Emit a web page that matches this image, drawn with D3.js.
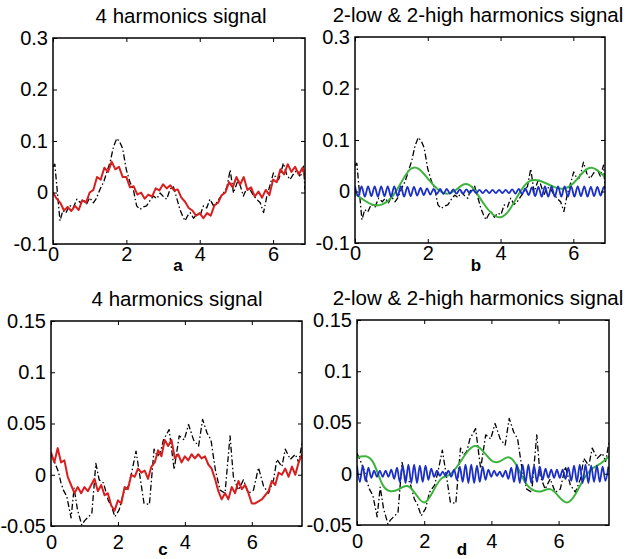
<!DOCTYPE html>
<html>
<head>
<meta charset="utf-8">
<script src="https://cdn.jsdelivr.net/npm/d3@7"></script>
<style>
  body { margin: 0; background: #fff; }
  svg text { font-family: "Liberation Sans", Arial, sans-serif; }
</style>
</head>
<body>
<svg id="chart" width="630" height="559"></svg>
<script>
// ---- data ----
const titles = ["4 harmonics signal", "2-low & 2-high harmonics signal", "4 harmonics signal", "2-low & 2-high harmonics signal"];
const letters = ["a", "b", "c", "d"];
const xTicks = [0, 2, 4, 6];
const yTicksTop = [-0.1, 0, 0.1, 0.2, 0.3];
const yTicksBottom = [-0.05, 0, 0.05, 0.1, 0.15];

// measured signal, top row (dash-dot black)
const blackTopX = [0, 0.05, 0.12, 0.19, 0.27, 0.35, 0.45, 0.55, 0.65, 0.75, 0.83, 0.92, 1.0, 1.1, 1.18, 1.28, 1.38, 1.46, 1.56, 1.65, 1.74, 1.82, 1.9, 2.0, 2.1, 2.19, 2.28, 2.37, 2.46, 2.55, 2.65, 2.74, 2.83, 2.92, 3.01, 3.1, 3.19, 3.28, 3.37, 3.46, 3.53, 3.6, 3.67, 3.74, 3.83, 3.92, 4.01, 4.1, 4.19, 4.28, 4.37, 4.46, 4.55, 4.65, 4.74, 4.83, 4.92, 5.0, 5.05, 5.12, 5.19, 5.28, 5.37, 5.46, 5.55, 5.65, 5.74, 5.83, 5.92, 6.01, 6.08, 6.15, 6.22, 6.28, 6.37, 6.46, 6.55, 6.65, 6.74, 6.83, 6.87];
const blackTopY = [0.05, 0.055, 0.0, -0.055, -0.035, -0.04, -0.025, -0.03, -0.013, -0.02, -0.013, -0.022, -0.01, -0.02, -0.012, 0.006, 0.02, 0.038, 0.06, 0.089, 0.105, 0.098, 0.085, 0.044, 0.02, 0.006, -0.026, -0.033, -0.028, -0.026, -0.015, -0.007, -0.012, -0.001, -0.008, -0.013, 0.006, 0.012, -0.01, -0.033, -0.045, -0.055, -0.045, -0.039, -0.05, -0.042, -0.045, -0.026, -0.03, -0.013, -0.025, -0.02, -0.01, -0.001, 0.01, 0.044, -0.001, 0.015, 0.025, 0.01, -0.007, 0.008, 0.006, -0.005, -0.013, -0.02, -0.039, -0.007, 0.015, 0.038, 0.028, 0.025, 0.04, 0.057, 0.035, 0.025, 0.035, 0.044, 0.03, 0.051, 0.006];

// measured signal, bottom row
const blackBotX = [0, 0.11, 0.22, 0.3, 0.37, 0.47, 0.6, 0.69, 0.79, 0.92, 1.0, 1.09, 1.22, 1.34, 1.44, 1.57, 1.71, 1.8, 1.91, 2.04, 2.16, 2.31, 2.41, 2.54, 2.66, 2.78, 2.94, 3.08, 3.18, 3.27, 3.36, 3.53, 3.68, 3.83, 3.98, 4.11, 4.26, 4.41, 4.53, 4.66, 4.78, 4.91, 5.05, 5.2, 5.35, 5.45, 5.6, 5.75, 5.9, 6.05, 6.2, 6.35, 6.5, 6.65, 6.75, 6.9, 7.0, 7.15, 7.3, 7.4, 7.5];
const blackBotY = [0.02, 0.012, 0.003, -0.008, -0.015, -0.021, -0.042, -0.013, -0.034, -0.049, -0.045, -0.042, -0.038, 0.011, -0.005, -0.008, -0.025, -0.03, -0.041, -0.034, -0.018, -0.011, 0.002, 0.023, -0.002, -0.028, -0.029, 0.025, 0.018, 0.022, 0.034, 0.044, 0.005, 0.038, 0.034, 0.049, 0.034, 0.028, 0.054, 0.041, 0.034, 0.005, -0.015, -0.018, 0.038, -0.002, -0.015, -0.005, -0.018, -0.015, 0.007, -0.011, -0.018, -0.005, 0.015, 0.008, 0.025, 0.015, 0.02, 0.012, 0.031];

// 4 harmonics reconstruction (red), step 0.1
const redStep = 0.1;
const redA = [0.0, -0.012, -0.02, -0.035, -0.028, -0.036, -0.026, -0.034, -0.015, -0.02, 0.0, 0.005, 0.03, 0.025, 0.048, 0.04, 0.06, 0.045, 0.05, 0.03, 0.03, 0.01, 0.012, -0.004, 0.0, -0.012, -0.004, -0.008, 0.008, 0.004, 0.016, 0.008, 0.014, 0.004, 0.006, -0.01, -0.018, -0.03, -0.035, -0.045, -0.04, -0.05, -0.04, -0.045, -0.025, -0.02, -0.005, 0.0, 0.02, 0.01, 0.03, 0.015, 0.03, 0.005, 0.01, -0.008, 0.002, -0.01, 0.005, -0.005, 0.025, 0.02, 0.045, 0.035, 0.055, 0.04, 0.05, 0.035, 0.048, 0.025];
const redC = [0.022, 0.012, 0.026, 0.012, 0.014, -0.002, -0.01, -0.018, -0.012, -0.018, -0.012, -0.016, -0.01, -0.004, -0.016, -0.01, -0.02, -0.018, -0.03, -0.035, -0.025, -0.028, -0.012, -0.014, 0.0, -0.002, 0.006, 0.002, 0.004, -0.004, 0.008, 0.012, 0.024, 0.018, 0.034, 0.028, 0.034, 0.016, 0.02, 0.012, 0.018, 0.014, 0.02, 0.016, 0.02, 0.016, 0.018, 0.01, 0.006, -0.004, -0.016, -0.024, -0.018, -0.024, -0.012, -0.018, -0.006, -0.014, -0.01, -0.018, -0.028, -0.028, -0.026, -0.024, -0.02, -0.016, -0.006, -0.01, 0.002, 0.0, 0.006, -0.002, 0.008, 0.0, 0.012, 0.02];

// 2 low harmonics (green), step 0.25
const greenStep = 0.25;
const greenB = [-0.004, -0.017, -0.026, -0.025, -0.012, 0.015, 0.042, 0.044, 0.025, 0.006, -0.004, 0.002, 0.014, 0.006, -0.02, -0.042, -0.05, -0.035, -0.005, 0.018, 0.022, 0.016, 0.008, 0.006, 0.016, 0.036, 0.046, 0.036, 0.02];
const greenD = [0.016, 0.017, 0.01, -0.01, -0.017, -0.015, -0.012, -0.02, -0.028, -0.018, -0.005, -0.001, 0.008, 0.02, 0.027, 0.022, 0.013, 0.012, 0.016, 0.008, -0.008, -0.016, -0.017, -0.015, -0.022, -0.028, -0.02, -0.005, 0.005, 0.01, 0.017];

// 2 high harmonics (blue), peaks and troughs
const blueStepB = 0.09;
const blueB = [0.01, -0.009, 0.01, -0.01, 0.01, -0.009, 0.01, -0.01, 0.01, -0.009, 0.01, -0.01, 0.01, -0.009, 0.01, -0.01, 0.009, -0.009, 0.009, -0.008,
  0.007, -0.007, 0.006, -0.006, 0.005, -0.005,
  0.005, -0.005, 0.005, -0.004, 0.004, -0.004, 0.004, -0.004, 0.004, -0.003,
  0.003, -0.003, 0.003, -0.003, 0.003, -0.003, 0.003, -0.003, 0.003, -0.003, 0.003, -0.003, 0.004, -0.004, 0.005,
  -0.005, 0.006, -0.007, 0.008, -0.009,
  0.009, -0.01, 0.01, -0.01, 0.01, -0.01, 0.01, -0.01, 0.01, -0.01, 0.01, -0.01, 0.01, -0.009, 0.01, -0.01, 0.009, -0.009, 0.009, -0.008, 0.009, -0.008];
const blueStepD = 0.085;
const blueD = [0.008, -0.008, 0.008, -0.007, 0.006,
  -0.004, 0.003, -0.003, 0.003, -0.003, 0.003, -0.003, 0.004, -0.005,
  0.006, -0.008, 0.008, -0.009, 0.009, -0.009, 0.009, -0.009, 0.008, -0.008, 0.008, -0.006, 0.005,
  -0.003, 0.003, -0.002, 0.002, -0.002, 0.003, -0.003, 0.004, -0.006,
  0.007, -0.008, 0.009, -0.009, 0.009, -0.009, 0.008, -0.008, 0.007, -0.006,
  0.004, -0.003, 0.003, -0.002, 0.002, -0.003, 0.003, -0.005,
  0.006, -0.008, 0.009, -0.009, 0.009, -0.009, 0.009, -0.009, 0.008, -0.008, 0.007, -0.006, 0.005,
  -0.004, 0.004, -0.004, 0.004, -0.004, 0.004, -0.005, 0.006,
  -0.007, 0.008, -0.008, 0.009, -0.009, 0.009, -0.009, 0.008, -0.008, 0.008, -0.008, 0.007, -0.007, 0.007];

// ---- helpers ----
const pairs = (xs, ys) => d3.zip(xs, ys);
const stepped = (vals, step) => vals.map((v, i) => [i * step, v]);

const blackStyle = { color: "#000", width: 1.3, dash: "6,2.5,1.5,2.5", curve: d3.curveLinear };
const redStyle = { color: "#d81e1e", width: 2, curve: d3.curveLinear };
const greenStyle = { color: "#3cb43c", width: 2, curve: d3.curveNatural };
const blueStyle = { color: "#1a2ec8", width: 1.8, curve: d3.curveCatmullRom };

const panels = [
  { left: 53, top: 38, w: 252, h: 206, xMax: 6.87, yDom: [-0.1, 0.3], yTicks: yTicksTop,
    titleX: 181, letterX: 178, letterY: 271, tickPad: 3,
    series: [
      { pts: pairs(blackTopX, blackTopY), ...blackStyle },
      { pts: stepped(redA, redStep), ...redStyle }
    ] },
  { left: 355, top: 37, w: 250, h: 206, xMax: 6.87, yDom: [-0.1, 0.3], yTicks: yTicksTop,
    titleX: 478, letterX: 476, letterY: 271, tickPad: 3,
    series: [
      { pts: pairs(blackTopX, blackTopY), ...blackStyle },
      { pts: stepped(greenB, greenStep), ...greenStyle },
      { pts: stepped(blueB, blueStepB), ...blueStyle }
    ] },
  { left: 51, top: 321, w: 251, h: 205, xMax: 7.5, yDom: [-0.05, 0.15], yTicks: yTicksBottom,
    titleX: 177, letterX: 163, letterY: 555, tickPad: 9,
    series: [
      { pts: pairs(blackBotX, blackBotY), ...blackStyle },
      { pts: stepped(redC, redStep), ...redStyle }
    ] },
  { left: 357, top: 320, w: 252, h: 205, xMax: 7.5, yDom: [-0.05, 0.15], yTicks: yTicksBottom,
    titleX: 478, letterX: 462, letterY: 555, tickPad: 9,
    series: [
      { pts: pairs(blackBotX, blackBotY), ...blackStyle },
      { pts: stepped(greenD, greenStep), ...greenStyle },
      { pts: stepped(blueD, blueStepD), ...blueStyle }
    ] }
];

const svg = d3.select("#chart");
const fmt = d => d === 0 ? "0" : String(d);

panels.forEach((p, k) => {
  const x = d3.scaleLinear().domain([0, p.xMax]).range([0, p.w]);
  const y = d3.scaleLinear().domain(p.yDom).range([p.h, 0]);
  const g = svg.append("g").attr("transform", `translate(${p.left},${p.top})`);

  g.append("clipPath").attr("id", "clip" + k)
    .append("rect").attr("width", p.w).attr("height", p.h);

  const lines = g.append("g").attr("clip-path", `url(#clip${k})`);
  p.series.forEach(s => {
    lines.append("path")
      .datum(s.pts)
      .attr("fill", "none")
      .attr("stroke", s.color)
      .attr("stroke-width", s.width)
      .attr("stroke-dasharray", s.dash || null)
      .attr("stroke-linejoin", "round")
      .attr("d", d3.line().x(d => x(d[0])).y(d => y(d[1])).curve(s.curve));
  });

  // axes, ticks pointing inward on all four sides
  const styleAxis = sel => {
    sel.select(".domain").remove();
    sel.selectAll(".tick line").attr("stroke", "#000").attr("stroke-width", 1);
    sel.selectAll("text").attr("font-size", 20).attr("fill", "#000");
  };
  g.append("g").attr("transform", `translate(0,${p.h})`)
    .call(d3.axisBottom(x).tickValues(xTicks).tickFormat(fmt).tickSize(-4).tickPadding(p.tickPad))
    .call(styleAxis);
  g.append("g")
    .call(d3.axisTop(x).tickValues(xTicks).tickFormat("").tickSize(-4))
    .call(styleAxis);
  g.append("g")
    .call(d3.axisLeft(y).tickValues(p.yTicks).tickFormat(fmt).tickSize(-4).tickPadding(5))
    .call(styleAxis);
  g.append("g").attr("transform", `translate(${p.w},0)`)
    .call(d3.axisRight(y).tickValues(p.yTicks).tickFormat("").tickSize(-4))
    .call(styleAxis);

  g.append("rect")
    .attr("width", p.w).attr("height", p.h)
    .attr("fill", "none").attr("stroke", "#000").attr("stroke-width", 1.5);

  svg.append("text")
    .attr("x", p.titleX).attr("y", p.top - 15)
    .attr("text-anchor", "middle")
    .attr("font-size", 20.5)
    .text(titles[k]);

  svg.append("text")
    .attr("x", p.letterX).attr("y", p.letterY)
    .attr("text-anchor", "middle")
    .attr("font-size", 17).attr("font-weight", "bold")
    .text(letters[k]);
});
</script>
</body>
</html>
